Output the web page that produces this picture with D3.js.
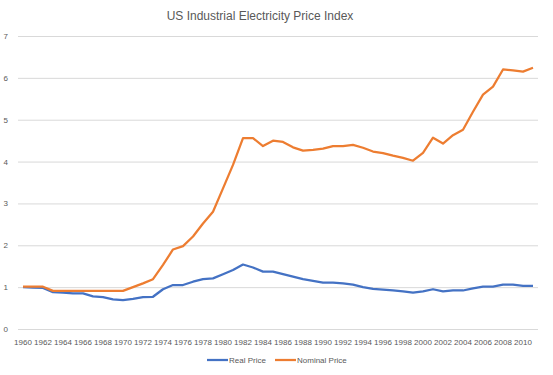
<!DOCTYPE html>
<html>
<head>
<meta charset="utf-8">
<script src="https://cdn.jsdelivr.net/npm/d3@7"></script>
<style>
  body { margin: 0; background: #fff; }
  svg text { font-family: "Liberation Sans", Arial, sans-serif; fill: #595959; }
</style>
</head>
<body>
<div id="mainGraphic"></div>
<script>
let svgWidth = 553
let svgHeight = 375

// years 1960..2011
let years = d3.range(1960, 2012)
let realPrice = [1.00, 0.99, 0.98, 0.88, 0.87, 0.85, 0.85, 0.78, 0.76, 0.71,
  0.69, 0.72, 0.76, 0.77, 0.95, 1.05, 1.05, 1.13, 1.19, 1.21,
  1.31, 1.41, 1.54, 1.47, 1.37, 1.37, 1.31, 1.25, 1.19, 1.15,
  1.11, 1.11, 1.09, 1.06, 1.00, 0.96, 0.94, 0.92, 0.90, 0.87,
  0.90, 0.95, 0.90, 0.92, 0.92, 0.97, 1.01, 1.01, 1.06, 1.06,
  1.03, 1.03]
let nominalPrice = [1.01, 1.01, 1.01, 0.91, 0.91, 0.91, 0.91, 0.91, 0.91, 0.91,
  0.91, 1.00, 1.09, 1.19, 1.53, 1.90, 1.98, 2.21, 2.52, 2.80,
  3.36, 3.92, 4.56, 4.56, 4.37, 4.50, 4.47, 4.34, 4.26, 4.28,
  4.31, 4.37, 4.37, 4.40, 4.33, 4.24, 4.20, 4.14, 4.09, 4.02,
  4.21, 4.57, 4.43, 4.63, 4.76, 5.19, 5.60, 5.79, 6.20, 6.18,
  6.15, 6.24]
let yTicks = [0, 1, 2, 3, 4, 5, 6, 7]
let seriesNames = ["Real Price", "Nominal Price"]
let seriesColors = ["#4472C4", "#ED7D31"]

renderChart();

function renderChart(){
  let graphic = d3.select("#mainGraphic")
    .append("svg")
      .attr("width", svgWidth)
      .attr("height", svgHeight)

  let x = d3.scaleBand()
    .domain(years)
    .range([18, 538])
  let y = d3.scaleLinear()
    .domain([0, 7])
    .range([329, 36])

  graphic.append("text")
    .attr("x", 260)
    .attr("y", 20)
    .attr("text-anchor", "middle")
    .style("font-size", "12px")
    .text("US Industrial Electricity Price Index")

  // gridlines + y labels
  let yAxis = graphic.append("g")
    .attr("transform", "translate(18,0)")
    .call(d3.axisLeft(y).tickValues(yTicks).tickFormat(d3.format("d")).tickSize(-520).tickPadding(10))
  yAxis.select(".domain").remove()
  yAxis.selectAll("line").attr("stroke", "#d9d9d9")
  yAxis.selectAll("text").style("font-size", "8px").attr("fill", "#595959")

  // category axis labels every other year
  let xAxis = graphic.append("g")
    .attr("transform", "translate(0,329)")
    .call(d3.axisBottom(x).tickValues(years.filter(d => d % 2 === 0)).tickSize(0).tickPadding(10))
  xAxis.select(".domain").remove()
  xAxis.selectAll("text").style("font-size", "8px").attr("fill", "#595959")

  let line = d3.line()
    .x((d, i) => x(years[i]) + x.bandwidth() / 2)
    .y(d => y(d))

  ;[realPrice, nominalPrice].forEach(function(series, k){
    graphic.append("path")
      .datum(series)
      .attr("fill", "none")
      .attr("stroke", seriesColors[k])
      .attr("stroke-width", 2.25)
      .attr("stroke-linejoin", "round")
      .attr("d", line)
  })

  // legend
  let legendX = [207, 275]
  let legend = graphic.append("g")
  seriesNames.forEach(function(name, k){
    legend.append("line")
      .attr("x1", legendX[k]).attr("x2", legendX[k] + 21)
      .attr("y1", 360).attr("y2", 360)
      .attr("stroke", seriesColors[k])
      .attr("stroke-width", 2.25)
    legend.append("text")
      .attr("x", legendX[k] + 22)
      .attr("y", 363)
      .style("font-size", "8px")
      .text(name)
  })
}
</script>
</body>
</html>
